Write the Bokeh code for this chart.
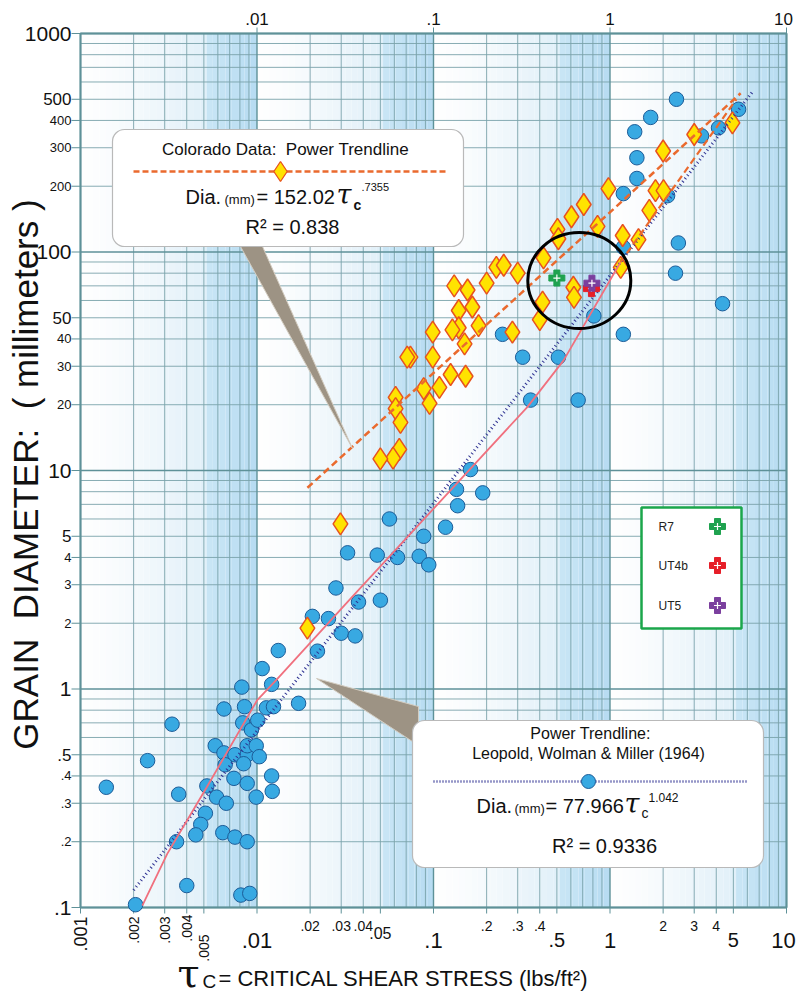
import numpy as np
from bokeh.plotting import figure
from bokeh.models import Range1d, Label
from bokeh.embed import file_html
from bokeh.resources import INLINE

# ---------------- data ----------------
lwm_tau = [2.38, 1.70, 1.38, 1.42, 1.42, 1.19, 5.35, 4.12, 3.30, 2.44, 2.35, 4.34, 1.19, 0.81,
           2.12, 1.19, 0.246, 0.32, 0.51, 0.355, 0.66, 0.162, 0.135, 0.19, 0.137, 0.0563, 0.117,
           0.088, 0.0326, 0.048, 0.0625, 0.083, 0.094, 0.028, 0.0376, 0.050, 0.0206, 0.0254,
           0.030, 0.036, 0.0132, 0.022, 0.0107, 0.0121, 0.0082, 0.0065, 0.0085, 0.0113, 0.0124,
           0.0172, 0.0083, 0.0093, 0.0101, 0.0033, 0.0058, 0.0065, 0.0075, 0.0088, 0.0088,
           0.0099, 0.0103, 0.0066, 0.0084, 0.0024, 0.0014, 0.0074, 0.0088, 0.0121, 0.0122,
           0.0052, 0.0059, 0.0067, 0.0099, 0.0036, 0.0051, 0.0048, 0.0045, 0.0035, 0.0064,
           0.0075, 0.0088, 0.0040, 0.0081, 0.0091, 0.00205]
lwm_dia = [500, 413, 355, 270, 217, 185, 450, 370, 340, 110, 80, 58, 42, 51,
           181, 105, 42, 33, 33, 21, 21, 10.1, 8.2, 7.9, 6.9, 6.0, 5.5,
           5.0, 4.2, 4.1, 4.0, 4.05, 3.7, 2.9, 2.5, 2.55, 2.15, 2.1,
           1.8, 1.75, 1.5, 1.49, 1.24, 1.05, 1.02, 0.81, 0.83, 0.82, 0.83,
           0.86, 0.70, 0.65, 0.72, 0.69, 0.55, 0.51, 0.50, 0.50, 0.55,
           0.55, 0.49, 0.45, 0.455, 0.47, 0.355, 0.39, 0.37, 0.40, 0.34,
           0.36, 0.32, 0.30, 0.32, 0.33, 0.27, 0.24, 0.215, 0.20, 0.22,
           0.21, 0.20, 0.126, 0.114, 0.116, 0.103]

co_tau = [4.94, 3.0, 2.0, 1.81, 2.01, 1.67, 0.98, 0.71, 0.605, 0.504, 0.51, 0.85, 1.18, 1.45,
          1.15, 0.42, 0.415, 0.40, 0.62, 0.625, 0.30, 0.227, 0.25, 0.20, 0.131, 0.156, 0.139,
          0.166, 0.18, 0.139, 0.128, 0.099, 0.28, 0.15, 0.074, 0.071, 0.099, 0.125, 0.152,
          0.088, 0.108, 0.095, 0.061, 0.061, 0.065, 0.064, 0.059, 0.050, 0.0297, 0.0193]
co_dia = [390, 345, 290, 191, 191, 155, 195, 165, 145, 127, 115, 131, 119, 114,
          85, 94, 59, 49, 69, 62, 80, 85, 87, 72, 70, 67, 54,
          56, 46, 45, 44, 43, 43, 38, 33, 33, 33, 27.5, 27,
          23.7, 24, 20.3, 21.6, 19.2, 16.6, 12.5, 11.4, 11.3, 5.7, 1.9]

site_names = ["R7", "UT4b", "UT5"]
site_tau = [0.50, 0.785, 0.79]
site_dia = [76, 68, 72]
site_colors = ["#1fa24f", "#e61e28", "#7b3f9e"]

circled_tau = [0.67]
circled_dia = [74]

# power trendlines: Dia = coef * tau ** exp
co_coef, co_exp = 152.02, 0.7355
co_fit_tau = [0.0193, 5.5]
lwm_coef, lwm_exp = 77.966, 1.042
lwm_fit_tau = [0.002, 6.4]

# curve drawn through the Leopold data (solid pink) and its dashed upper extension
pink_tau = [0.00224, 0.0031, 0.0052, 0.010, 0.013, 0.034, 0.34, 0.546, 1.146]
pink_dia = [0.102, 0.176, 0.356, 0.886, 1.11, 2.6, 19.5, 31.9, 89.8]
ext_tau = [1.146, 5.2]
ext_dia = [89.8, 500]

y_ticks = [1000, 500, 400, 300, 200, 100, 50, 40, 30, 20, 10, 5, 4, 3, 2, 1, 0.5, 0.4, 0.3, 0.2, 0.1]
y_tick_labels = ["1000", "500", "400", "300", "200", "100", "50", "40", "30", "20", "10",
                 "5", "4", "3", "2", "1", ".5", ".4", ".3", ".2", ".1"]
x_ticks = [0.001, 0.002, 0.003, 0.004, 0.005, 0.01, 0.02, 0.03, 0.04, 0.05, 0.1, 0.2, 0.3, 0.4,
           0.5, 1, 2, 3, 4, 5, 10]
x_tick_labels = [".001", ".002", ".003", ".004", ".005", ".01", ".02", ".03", ".04", ".05", ".1",
                 ".2", ".3", ".4", ".5", "1", "2", "3", "4", "5", "10"]
top_ticks = [0.01, 0.1, 1, 10]
top_tick_labels = [".01", ".1", "1", "10"]
x_decades = [0.001, 0.01, 0.1, 1, 10]
y_decades = [0.1, 1, 10, 100, 1000]

# ---------------- layout helpers (page pixels -> data) ----------------
W, H = 797, 998
FL, FT, FW, FH = 80, 33, 706, 874
def dx(px):
    return 10 ** ((px - FL) / (FW / 4) - 3)
def dy(py):
    return 10 ** (3 - (py - FT) / (FH / 4))

SANS = "Liberation Sans"
EDGE = "#5e9198"
GRID = "#7ba3aa"
INK = "#111111"
XMIN, XMAX, YMIN, YMAX = x_decades[0], x_decades[-1], y_decades[0], y_decades[-1]

p = figure(x_axis_type="log", y_axis_type="log",
           x_range=Range1d(dx(0), dx(W)), y_range=Range1d(dy(H), dy(0)),
           frame_width=W, frame_height=H, min_border=0,
           x_axis_location=None, y_axis_location=None,
           output_backend="svg", toolbar_location=None,
           background_fill_color="white", border_fill_color="white")
p.outline_line_color = None
p.grid.visible = False

# background: each decade shades from white to pale blue, with a bluer 5-10 band
for k in range(-3, 1):
    n = 28
    for i in range(n):
        t0, t1 = i / n, (i + 1) / n
        tm = (t0 + t1) / 2
        if tm < 0.70:
            f = (tm / 0.70) ** 1.3
            c = (int(255 - 30 * f), int(255 - 15 * f), int(255 - 6 * f))
        else:
            f = (tm - 0.70) / 0.30
            c = (int(203 - 20 * f), int(231 - 11 * f), int(246 - 4 * f))
        p.quad(left=10 ** (k + t0), right=10 ** (k + t1), bottom=YMIN, top=YMAX,
               fill_color="#%02x%02x%02x" % c, line_color=None)

# grid lines
minx = [m * 10.0 ** k for k in range(-3, 1) for m in range(2, 10)]
miny = [m * 10.0 ** k for k in range(-1, 3) for m in range(2, 10)]
p.segment(x0=minx, x1=minx, y0=[YMIN] * len(minx), y1=[YMAX] * len(minx), line_color=GRID, line_width=0.9)
p.segment(x0=[XMIN] * len(miny), x1=[XMAX] * len(miny), y0=miny, y1=miny, line_color=GRID, line_width=0.9)
p.segment(x0=x_decades, x1=x_decades, y0=[YMIN] * 5, y1=[YMAX] * 5, line_color=EDGE, line_width=1.4)
p.segment(x0=[XMIN] * 5, x1=[XMAX] * 5, y0=y_decades, y1=y_decades, line_color=EDGE, line_width=1.4)

# tick marks outside the frame
p.segment(x0=[dx(71)] * len(y_ticks), x1=[XMIN] * len(y_ticks), y0=y_ticks, y1=y_ticks,
          line_color=EDGE, line_width=1)
p.segment(x0=x_ticks, x1=x_ticks, y0=[dy(913)] * len(x_ticks), y1=[YMIN] * len(x_ticks),
          line_color=EDGE, line_width=1)
p.segment(x0=top_ticks, x1=top_ticks, y0=[YMAX] * 4, y1=[dy(27)] * 4, line_color=EDGE, line_width=1)
p.quad(left=XMIN, right=XMAX, bottom=YMIN, top=YMAX, fill_color=None, line_color=EDGE, line_width=2)

# y tick labels
big_y = {"1000", "100", "10", "1", ".1"}
mid_y = {"500", "50", "5", ".5"}
for v, t in zip(y_ticks, y_tick_labels):
    fs = "21px" if t in big_y else ("17px" if t in mid_y else "13px")
    p.add_layout(Label(x=dx(71), y=v, text=t, text_align="right", text_baseline="middle",
                       text_font=SANS, text_font_size=fs, text_color=INK))

# x tick labels
rot = {".001": ("18px", 916), ".002": ("14px", 916), ".003": ("14px", 916),
       ".004": ("14px", 914), ".005": ("14px", 934)}
shift = {"10": -3}
for v, t in zip(x_ticks, x_tick_labels):
    if t in rot:
        fs, ytop = rot[t]
        p.add_layout(Label(x=v, y=dy(ytop), text=t, angle=np.pi / 2, text_align="right",
                           text_baseline="middle", text_font=SANS, text_font_size=fs,
                           text_color=INK))
    else:
        if t in (".01", ".1", "1", "10"):
            fs, yc = "22px", 940
        elif t in (".5", "5"):
            fs, yc = "20px", 939
        elif t == ".05":
            fs, yc = "16px", 932
        else:
            fs, yc = "14px", 925
        p.add_layout(Label(x=v, y=dy(yc), x_offset=shift.get(t, 0), text=t, text_align="center",
                           text_baseline="middle", text_font=SANS, text_font_size=fs,
                           text_color=INK))

for v, t in zip(top_ticks, top_tick_labels):
    p.add_layout(Label(x=v, y=dy(18), x_offset=shift.get(t, 0), text=t, text_align="center",
                       text_baseline="middle", text_font=SANS, text_font_size="17px", text_color=INK))

# axis titles
p.add_layout(Label(x=dx(25), y=dy(474),
                   text="GRAIN\u00a0 DIAMETER:\u00a0 (\u00a0millimeters\u00a0)",
                   angle=np.pi / 2, text_align="center", text_baseline="middle", text_font=SANS,
                   text_font_size="35px", text_color=INK))
p.add_layout(Label(x=dx(177), y=dy(972), text="τ", text_align="left", text_baseline="middle",
                   text_font="DejaVu Serif", text_font_size="40px", text_color=INK))
p.add_layout(Label(x=dx(202), y=dy(981), text="C", text_align="left", text_baseline="middle",
                   text_font=SANS, text_font_size="19px", text_color=INK))
p.add_layout(Label(x=dx(218), y=dy(978), text="= CRITICAL SHEAR STRESS (lbs/ft²)", text_align="left",
                   text_baseline="middle", text_font=SANS, text_font_size="22px", text_color=INK))

# ---------------- data marks ----------------
p.scatter(lwm_tau, lwm_dia, marker="circle", size=14.5, fill_color="#38a9e2",
          line_color="#1c5c98", line_width=1)
p.scatter(co_tau, co_dia, marker="diamond", size=22, fill_color="#ffe300",
          line_color="#e7521f", line_width=1.5)

pt = np.logspace(np.log10(lwm_fit_tau[0]), np.log10(lwm_fit_tau[1]), 60)
p.line(pt, lwm_coef * pt ** lwm_exp, line_color="#2e3192", line_width=3, line_dash="1 3")
p.line(pink_tau, pink_dia, line_color="#f0707e", line_width=1.8)
p.line(ext_tau, ext_dia, line_color="#ea6a2e", line_width=2.2, line_dash="7 4")
ct = np.logspace(np.log10(co_fit_tau[0]), np.log10(co_fit_tau[1]), 60)
p.line(ct, co_coef * ct ** co_exp, line_color="#ea6a2e", line_width=2.5, line_dash="7 4")

for i in range(3):
    p.scatter([site_tau[i]], [site_dia[i]], marker="plus", size=16, fill_color=site_colors[i],
              line_color=site_colors[i], line_width=1)
    p.scatter([site_tau[i]], [site_dia[i]], marker="cross", size=7, line_color="white", line_width=1.2)

p.ellipse(x=circled_tau, y=circled_dia, width=103, height=96, width_units="screen",
          height_units="screen", fill_color=None, line_color="black", line_width=3)

# ---------------- callouts ----------------
p.patch([dx(240), dx(262), dx(352)], [dy(246), dy(246), dy(448)], fill_color="#9d9384",
        line_color="#d3ccc0", line_width=1)
p.patch([dx(316), dx(418), dx(418)], [dy(678), dy(706), dy(745)], fill_color="#9d9384",
        line_color="#d3ccc0", line_width=1)

p.quad(left=dx(112), right=dx(463), top=dy(129), bottom=dy(246), fill_color="white",
       line_color="#b9b9b9", line_width=1.2, border_radius=12)
p.quad(left=dx(412), right=dx(763), top=dy(720), bottom=dy(867), fill_color="white",
       line_color="#b9b9b9", line_width=1.2, border_radius=12)
p.quad(left=dx(641), right=dx(741), top=dy(507), bottom=dy(628), fill_color="white",
       line_color="#1ba64b", line_width=2.5)

def txt(px, py, s, size, align="left", font=SANS, style="normal", color=INK):
    p.add_layout(Label(x=dx(px), y=dy(py), text=s, text_align=align, text_baseline="middle",
                       text_font=font, text_font_size=size, text_font_style=style, text_color=color))

# top callout content
txt(285, 149, "Colorado Data:\u00a0 Power Trendline", "17px", "center")
p.line([dx(133), dx(448)], [dy(171), dy(171)], line_color="#ea6a2e", line_width=2.5, line_dash="6 3")
p.scatter([dx(280)], [dy(171)], marker="diamond", size=20, fill_color="#ffe300",
          line_color="#e7521f", line_width=1.3)
txt(185, 196, "Dia.", "20px")
txt(224, 199, "(mm)", "13px")
txt(256, 196, "= 152.02", "20px")
txt(336, 194, "τ", "27px", font="DejaVu Serif", style="italic")
txt(353, 204, "c", "14px", style="bold")
txt(361, 186, ".7355", "11px")
txt(292, 226, "R² = 0.838", "20px", "center")

# bottom callout content
txt(590, 733, "Power Trendline:", "16px", "center")
txt(588, 753, "Leopold, Wolman & Miller (1964)", "16px", "center")
p.line([dx(433), dx(748)], [dy(781), dy(781)], line_color="#2e3192", line_width=2.5, line_dash="1 2")
p.scatter([dx(588)], [dy(781)], marker="circle", size=14, fill_color="#38a9e2",
          line_color="#1c5c98", line_width=1)
txt(476, 805, "Dia.", "20px")
txt(514, 808, "(mm)", "13px")
txt(545, 805, "= 77.966", "20px")
txt(624, 803, "τ", "27px", font="DejaVu Serif", style="italic")
txt(641, 812, "c", "14px")
txt(648, 797, "1.042", "12px")
txt(604, 845, "R² = 0.9336", "20px", "center")

# site legend
leg_y = [526, 565, 605]
for i in range(3):
    txt(658, leg_y[i], site_names[i], "12px", color="#222222")
    p.scatter([dx(717)], [dy(leg_y[i])], marker="plus", size=16, fill_color=site_colors[i],
              line_color=site_colors[i], line_width=1)
    p.scatter([dx(717)], [dy(leg_y[i])], marker="cross", size=7, line_color="white", line_width=1.2)

open("out.html", "w").write(file_html(p, INLINE))
